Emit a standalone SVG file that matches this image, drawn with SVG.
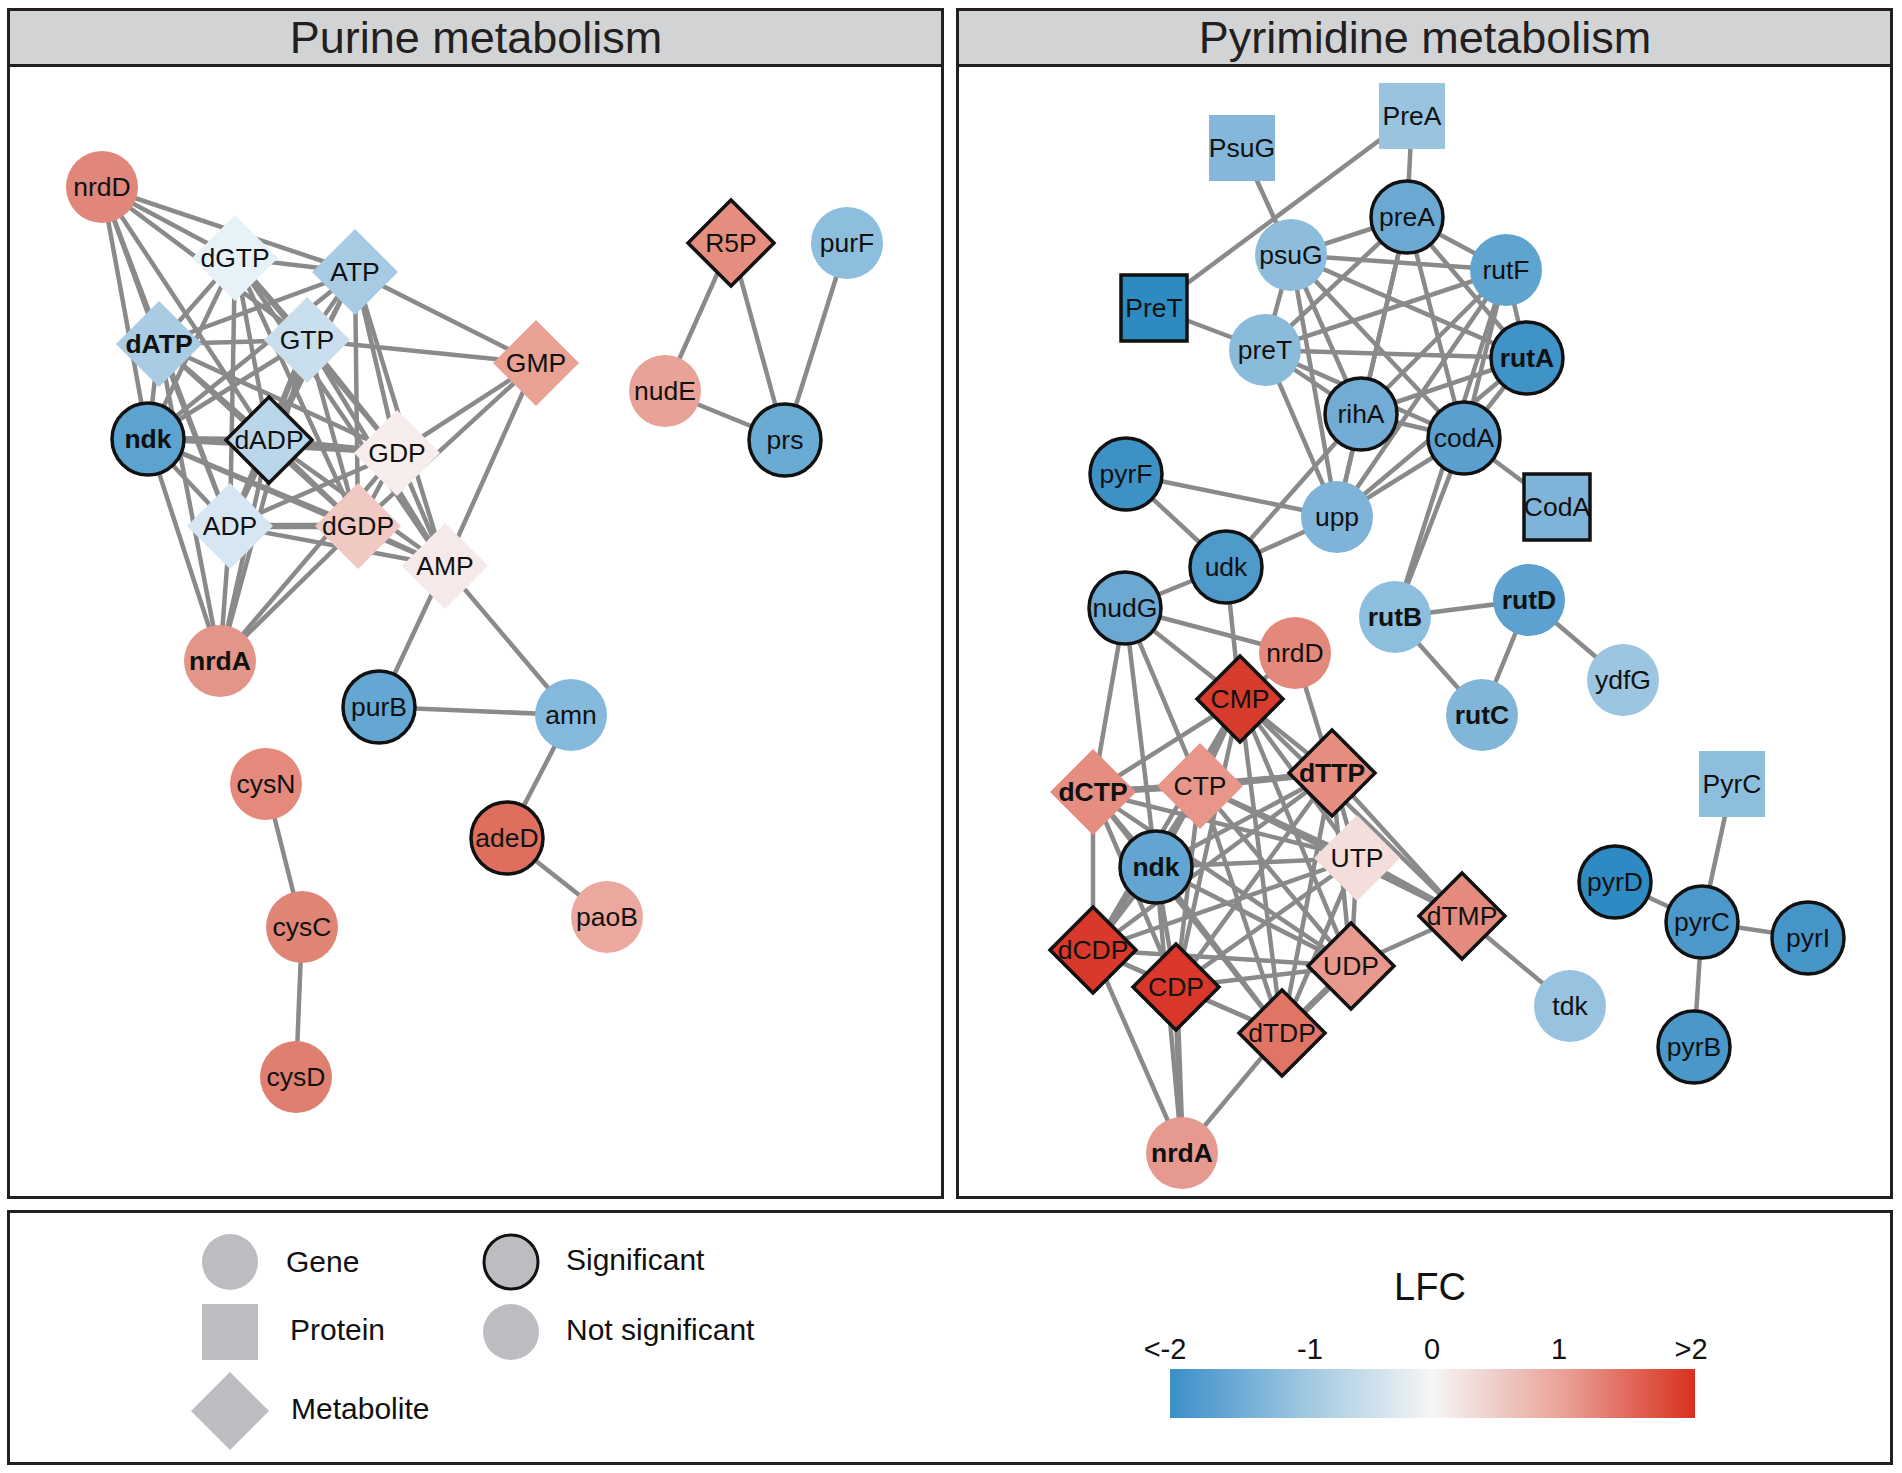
<svg xmlns="http://www.w3.org/2000/svg" xmlns:xlink="http://www.w3.org/1999/xlink" width="1902" height="1473" viewBox="0 0 1902 1473">
<style>
.frame{fill:none;stroke:#231f20;stroke-width:3}
.hdr{fill:#d1d3d4;stroke:#231f20;stroke-width:3}
.title{font-family:"Liberation Sans",Arial,sans-serif;font-size:45px;fill:#231f20;text-anchor:middle}
.e line{stroke:#8a8a8a;stroke-width:4.5;stroke-linecap:round}
.e line.w{stroke-width:6.5}
.t{font-family:"Liberation Sans",Arial,sans-serif;font-size:26.5px;fill:#111;text-anchor:middle}
.b{font-weight:bold}
.sig{stroke:#111;stroke-width:3.5}
.lg{font-family:"Liberation Sans",Arial,sans-serif;font-size:30px;fill:#111}
.lt{font-family:"Liberation Sans",Arial,sans-serif;font-size:29px;fill:#111;text-anchor:middle}
.ls{fill:#bcbdc0}
</style>
<defs>
<circle id="c" r="36"/>
<path id="d" d="M0,-43L43,0L0,43L-43,0Z"/>
<rect id="s" x="-33" y="-33" width="66" height="66"/>
<linearGradient id="lfc" x1="0" y1="0" x2="1" y2="0">
<stop offset="0" stop-color="#3b8fc9"/>
<stop offset="0.25" stop-color="#9cc6e0"/>
<stop offset="0.5" stop-color="#f6f6f6"/>
<stop offset="0.75" stop-color="#e9a198"/>
<stop offset="1" stop-color="#d9301f"/>
</linearGradient>
</defs>
<rect width="1902" height="1473" fill="#fff"/>

<g id="panel-purine">
<rect class="frame" x="8.5" y="9.5" width="934" height="1188"/>
<rect class="hdr" x="8.5" y="9.5" width="934" height="56"/>
<text class="title" x="476" y="53">Purine metabolism</text>
</g>
<g id="panel-pyrimidine">
<rect class="frame" x="957.5" y="9.5" width="934" height="1188"/>
<rect class="hdr" x="957.5" y="9.5" width="934" height="56"/>
<text class="title" x="1425" y="53">Pyrimidine metabolism</text>
</g>

<g id="connectors" class="e">
<line x1="102" y1="187" x2="235" y2="258"/>
<line x1="102" y1="187" x2="355" y2="272"/>
<line x1="102" y1="187" x2="307" y2="340"/>
<line x1="102" y1="187" x2="269" y2="440"/>
<line x1="102" y1="187" x2="159" y2="344"/>
<line x1="102" y1="187" x2="148" y2="439"/>
<line x1="102" y1="187" x2="230" y2="526"/>
<line x1="235" y1="258" x2="355" y2="272"/>
<line x1="235" y1="258" x2="159" y2="344"/>
<line x1="235" y1="258" x2="307" y2="340"/>
<line x1="235" y1="258" x2="148" y2="439"/>
<line x1="235" y1="258" x2="269" y2="440"/>
<line x1="235" y1="258" x2="397" y2="453"/>
<line x1="235" y1="258" x2="358" y2="526"/>
<line x1="235" y1="258" x2="230" y2="526"/>
<line x1="235" y1="258" x2="445" y2="566"/>
<line x1="355" y1="272" x2="159" y2="344"/>
<line x1="355" y1="272" x2="307" y2="340"/>
<line x1="355" y1="272" x2="536" y2="363"/>
<line x1="355" y1="272" x2="148" y2="439"/>
<line x1="355" y1="272" x2="269" y2="440"/>
<line x1="355" y1="272" x2="397" y2="453"/>
<line x1="355" y1="272" x2="358" y2="526"/>
<line x1="355" y1="272" x2="230" y2="526"/>
<line x1="355" y1="272" x2="445" y2="566"/>
<line x1="159" y1="344" x2="307" y2="340"/>
<line x1="159" y1="344" x2="148" y2="439"/>
<line x1="159" y1="344" x2="269" y2="440"/>
<line x1="159" y1="344" x2="397" y2="453"/>
<line x1="159" y1="344" x2="358" y2="526"/>
<line x1="159" y1="344" x2="230" y2="526"/>
<line x1="159" y1="344" x2="220" y2="661"/>
<line x1="307" y1="340" x2="536" y2="363"/>
<line x1="307" y1="340" x2="148" y2="439"/>
<line x1="307" y1="340" x2="269" y2="440"/>
<line x1="307" y1="340" x2="397" y2="453"/>
<line x1="307" y1="340" x2="358" y2="526"/>
<line x1="307" y1="340" x2="230" y2="526"/>
<line x1="307" y1="340" x2="445" y2="566"/>
<line x1="307" y1="340" x2="220" y2="661"/>
<line class="w" x1="148" y1="439" x2="269" y2="440"/>
<line x1="148" y1="439" x2="397" y2="453"/>
<line x1="148" y1="439" x2="230" y2="526"/>
<line x1="148" y1="439" x2="358" y2="526"/>
<line x1="148" y1="439" x2="220" y2="661"/>
<line x1="148" y1="439" x2="445" y2="566"/>
<line class="w" x1="269" y1="440" x2="397" y2="453"/>
<line x1="269" y1="440" x2="358" y2="526"/>
<line x1="269" y1="440" x2="230" y2="526"/>
<line x1="269" y1="440" x2="220" y2="661"/>
<line x1="269" y1="440" x2="445" y2="566"/>
<line x1="397" y1="453" x2="536" y2="363"/>
<line x1="397" y1="453" x2="358" y2="526"/>
<line x1="397" y1="453" x2="230" y2="526"/>
<line x1="397" y1="453" x2="445" y2="566"/>
<line x1="397" y1="453" x2="220" y2="661"/>
<line class="w" x1="230" y1="526" x2="358" y2="526"/>
<line x1="230" y1="526" x2="445" y2="566"/>
<line x1="230" y1="526" x2="220" y2="661"/>
<line x1="358" y1="526" x2="445" y2="566"/>
<line x1="358" y1="526" x2="220" y2="661"/>
<line x1="358" y1="526" x2="536" y2="363"/>
<line x1="445" y1="566" x2="536" y2="363"/>
<line x1="445" y1="566" x2="379" y2="707"/>
<line x1="445" y1="566" x2="571" y2="715"/>
<line x1="379" y1="707" x2="571" y2="715"/>
<line x1="571" y1="715" x2="507" y2="838"/>
<line x1="507" y1="838" x2="607" y2="917"/>
<line x1="266" y1="784" x2="302" y2="927"/>
<line x1="302" y1="927" x2="296" y2="1077"/>
<line x1="731" y1="243" x2="665" y2="391"/>
<line x1="731" y1="243" x2="785" y2="440"/>
<line x1="665" y1="391" x2="785" y2="440"/>
<line x1="847" y1="243" x2="785" y2="440"/>
<line x1="1242" y1="148" x2="1291" y2="255"/>
<line x1="1412" y1="116" x2="1407" y2="217"/>
<line x1="1412" y1="116" x2="1154" y2="308"/>
<line x1="1154" y1="308" x2="1265" y2="350"/>
<line x1="1557" y1="507" x2="1464" y2="438"/>
<line x1="1291" y1="255" x2="1407" y2="217"/>
<line x1="1291" y1="255" x2="1506" y2="270"/>
<line x1="1291" y1="255" x2="1527" y2="358"/>
<line x1="1291" y1="255" x2="1464" y2="438"/>
<line x1="1291" y1="255" x2="1361" y2="414"/>
<line x1="1291" y1="255" x2="1265" y2="350"/>
<line x1="1291" y1="255" x2="1337" y2="517"/>
<line x1="1407" y1="217" x2="1506" y2="270"/>
<line x1="1407" y1="217" x2="1527" y2="358"/>
<line x1="1407" y1="217" x2="1464" y2="438"/>
<line x1="1407" y1="217" x2="1361" y2="414"/>
<line x1="1407" y1="217" x2="1265" y2="350"/>
<line x1="1407" y1="217" x2="1337" y2="517"/>
<line x1="1506" y1="270" x2="1265" y2="350"/>
<line x1="1506" y1="270" x2="1464" y2="438"/>
<line x1="1506" y1="270" x2="1361" y2="414"/>
<line x1="1506" y1="270" x2="1337" y2="517"/>
<line x1="1506" y1="270" x2="1395" y2="617"/>
<line x1="1506" y1="270" x2="1527" y2="358"/>
<line x1="1265" y1="350" x2="1527" y2="358"/>
<line x1="1265" y1="350" x2="1361" y2="414"/>
<line x1="1265" y1="350" x2="1464" y2="438"/>
<line x1="1265" y1="350" x2="1337" y2="517"/>
<line x1="1527" y1="358" x2="1361" y2="414"/>
<line x1="1527" y1="358" x2="1464" y2="438"/>
<line x1="1527" y1="358" x2="1337" y2="517"/>
<line x1="1361" y1="414" x2="1464" y2="438"/>
<line x1="1361" y1="414" x2="1337" y2="517"/>
<line x1="1361" y1="414" x2="1226" y2="567"/>
<line x1="1464" y1="438" x2="1337" y2="517"/>
<line x1="1464" y1="438" x2="1395" y2="617"/>
<line x1="1337" y1="517" x2="1126" y2="474"/>
<line x1="1337" y1="517" x2="1226" y2="567"/>
<line x1="1126" y1="474" x2="1226" y2="567"/>
<line x1="1226" y1="567" x2="1125" y2="608"/>
<line x1="1226" y1="567" x2="1240" y2="699"/>
<line x1="1395" y1="617" x2="1529" y2="600"/>
<line x1="1395" y1="617" x2="1482" y2="715"/>
<line x1="1529" y1="600" x2="1482" y2="715"/>
<line x1="1529" y1="600" x2="1623" y2="680"/>
<line x1="1732" y1="784" x2="1702" y2="922"/>
<line x1="1615" y1="882" x2="1702" y2="922"/>
<line x1="1702" y1="922" x2="1808" y2="938"/>
<line x1="1702" y1="922" x2="1694" y2="1047"/>
<line x1="1125" y1="608" x2="1295" y2="653"/>
<line x1="1125" y1="608" x2="1240" y2="699"/>
<line x1="1125" y1="608" x2="1093" y2="792"/>
<line x1="1125" y1="608" x2="1200" y2="786"/>
<line x1="1125" y1="608" x2="1156" y2="867"/>
<line x1="1295" y1="653" x2="1332" y2="773"/>
<line x1="1295" y1="653" x2="1240" y2="699"/>
<line x1="1240" y1="699" x2="1093" y2="792"/>
<line x1="1240" y1="699" x2="1200" y2="786"/>
<line x1="1240" y1="699" x2="1332" y2="773"/>
<line x1="1240" y1="699" x2="1357" y2="858"/>
<line x1="1240" y1="699" x2="1462" y2="916"/>
<line x1="1240" y1="699" x2="1156" y2="867"/>
<line x1="1240" y1="699" x2="1093" y2="950"/>
<line x1="1240" y1="699" x2="1176" y2="987"/>
<line x1="1240" y1="699" x2="1351" y2="966"/>
<line x1="1240" y1="699" x2="1282" y2="1033"/>
<line class="w" x1="1093" y1="792" x2="1200" y2="786"/>
<line x1="1093" y1="792" x2="1156" y2="867"/>
<line x1="1093" y1="792" x2="1093" y2="950"/>
<line x1="1093" y1="792" x2="1176" y2="987"/>
<line x1="1093" y1="792" x2="1357" y2="858"/>
<line x1="1093" y1="792" x2="1351" y2="966"/>
<line x1="1093" y1="792" x2="1282" y2="1033"/>
<line x1="1093" y1="792" x2="1332" y2="773"/>
<line class="w" x1="1200" y1="786" x2="1332" y2="773"/>
<line x1="1200" y1="786" x2="1156" y2="867"/>
<line x1="1200" y1="786" x2="1357" y2="858"/>
<line x1="1200" y1="786" x2="1093" y2="950"/>
<line x1="1200" y1="786" x2="1176" y2="987"/>
<line x1="1200" y1="786" x2="1351" y2="966"/>
<line x1="1200" y1="786" x2="1282" y2="1033"/>
<line x1="1200" y1="786" x2="1462" y2="916"/>
<line x1="1332" y1="773" x2="1357" y2="858"/>
<line x1="1332" y1="773" x2="1462" y2="916"/>
<line x1="1332" y1="773" x2="1156" y2="867"/>
<line x1="1332" y1="773" x2="1093" y2="950"/>
<line x1="1332" y1="773" x2="1176" y2="987"/>
<line x1="1332" y1="773" x2="1351" y2="966"/>
<line x1="1332" y1="773" x2="1282" y2="1033"/>
<line x1="1156" y1="867" x2="1357" y2="858"/>
<line x1="1156" y1="867" x2="1093" y2="950"/>
<line x1="1156" y1="867" x2="1176" y2="987"/>
<line x1="1156" y1="867" x2="1351" y2="966"/>
<line x1="1156" y1="867" x2="1282" y2="1033"/>
<line x1="1156" y1="867" x2="1182" y2="1153"/>
<line class="w" x1="1357" y1="858" x2="1462" y2="916"/>
<line x1="1357" y1="858" x2="1093" y2="950"/>
<line x1="1357" y1="858" x2="1176" y2="987"/>
<line x1="1357" y1="858" x2="1351" y2="966"/>
<line x1="1357" y1="858" x2="1282" y2="1033"/>
<line x1="1093" y1="950" x2="1176" y2="987"/>
<line x1="1093" y1="950" x2="1351" y2="966"/>
<line x1="1093" y1="950" x2="1282" y2="1033"/>
<line x1="1093" y1="950" x2="1182" y2="1153"/>
<line x1="1176" y1="987" x2="1351" y2="966"/>
<line x1="1176" y1="987" x2="1282" y2="1033"/>
<line class="w" x1="1176" y1="987" x2="1182" y2="1153"/>
<line class="w" x1="1351" y1="966" x2="1282" y2="1033"/>
<line x1="1351" y1="966" x2="1462" y2="916"/>
<line x1="1282" y1="1033" x2="1182" y2="1153"/>
<line x1="1462" y1="916" x2="1570" y2="1006"/>
</g>

<g id="n-pur-nrdD"><use href="#c" x="102" y="187" fill="#e0867a"/><text class="t" x="102" y="196">nrdD</text></g>
<g id="n-pur-dGTP"><use href="#d" x="235" y="258" fill="#e7f1f8"/><text class="t" x="235" y="267">dGTP</text></g>
<g id="n-pur-ATP"><use href="#d" x="355" y="272" fill="#a7cbe3"/><text class="t" x="355" y="281">ATP</text></g>
<g id="n-pur-dATP"><use href="#d" x="159" y="344" fill="#a9cce4"/><text class="t b" x="159" y="353">dATP</text></g>
<g id="n-pur-GTP"><use href="#d" x="307" y="340" fill="#c9dfee"/><text class="t" x="307" y="349">GTP</text></g>
<g id="n-pur-GMP"><use href="#d" x="536" y="363" fill="#e8a193"/><text class="t" x="536" y="372">GMP</text></g>
<g id="n-pur-ndk"><use href="#c" x="148" y="439" fill="#5ca3d0" class="sig"/><text class="t b" x="148" y="448">ndk</text></g>
<g id="n-pur-dADP"><use href="#d" x="269" y="440" fill="#bad6ea" class="sig"/><text class="t" x="269" y="449">dADP</text></g>
<g id="n-pur-GDP"><use href="#d" x="397" y="453" fill="#f7eded"/><text class="t" x="397" y="462">GDP</text></g>
<g id="n-pur-ADP"><use href="#d" x="230" y="526" fill="#d6e6f2"/><text class="t" x="230" y="535">ADP</text></g>
<g id="n-pur-dGDP"><use href="#d" x="358" y="526" fill="#f0c9c3"/><text class="t" x="358" y="535">dGDP</text></g>
<g id="n-pur-AMP"><use href="#d" x="445" y="566" fill="#f5e9e9"/><text class="t" x="445" y="575">AMP</text></g>
<g id="n-pur-nrdA"><use href="#c" x="220" y="661" fill="#e4958a"/><text class="t b" x="220" y="670">nrdA</text></g>
<g id="n-pur-R5P"><use href="#d" x="731" y="243" fill="#e58e80" class="sig"/><text class="t" x="731" y="252">R5P</text></g>
<g id="n-pur-purF"><use href="#c" x="847" y="243" fill="#8dbedd"/><text class="t" x="847" y="252">purF</text></g>
<g id="n-pur-nudE"><use href="#c" x="665" y="391" fill="#e9a297"/><text class="t" x="665" y="400">nudE</text></g>
<g id="n-pur-prs"><use href="#c" x="785" y="440" fill="#6aabd3" class="sig"/><text class="t" x="785" y="449">prs</text></g>
<g id="n-pur-purB"><use href="#c" x="379" y="707" fill="#64a7d2" class="sig"/><text class="t" x="379" y="716">purB</text></g>
<g id="n-pur-amn"><use href="#c" x="571" y="715" fill="#85b9db"/><text class="t" x="571" y="724">amn</text></g>
<g id="n-pur-adeD"><use href="#c" x="507" y="838" fill="#de6f5f" class="sig"/><text class="t" x="507" y="847">adeD</text></g>
<g id="n-pur-paoB"><use href="#c" x="607" y="917" fill="#eaa89e"/><text class="t" x="607" y="926">paoB</text></g>
<g id="n-pur-cysN"><use href="#c" x="266" y="784" fill="#e4897c"/><text class="t" x="266" y="793">cysN</text></g>
<g id="n-pur-cysC"><use href="#c" x="302" y="927" fill="#e08576"/><text class="t" x="302" y="936">cysC</text></g>
<g id="n-pur-cysD"><use href="#c" x="296" y="1077" fill="#df7f70"/><text class="t" x="296" y="1086">cysD</text></g>

<g id="n-pyr-PsuG"><use href="#s" x="1242" y="148" fill="#84b7d9"/><text class="t" x="1242" y="157">PsuG</text></g>
<g id="n-pyr-PreA"><use href="#s" x="1412" y="116" fill="#99c4e0"/><text class="t" x="1412" y="125">PreA</text></g>
<g id="n-pyr-preA"><use href="#c" x="1407" y="217" fill="#6ba9d2" class="sig"/><text class="t" x="1407" y="226">preA</text></g>
<g id="n-pyr-psuG"><use href="#c" x="1291" y="255" fill="#8dbcdc"/><text class="t" x="1291" y="264">psuG</text></g>
<g id="n-pyr-rutF"><use href="#c" x="1506" y="270" fill="#5fa3cf"/><text class="t" x="1506" y="279">rutF</text></g>
<g id="n-pyr-PreT"><use href="#s" x="1154" y="308" fill="#2e8bc2" class="sig"/><text class="t" x="1154" y="317">PreT</text></g>
<g id="n-pyr-preT"><use href="#c" x="1265" y="350" fill="#8abbdb"/><text class="t" x="1265" y="359">preT</text></g>
<g id="n-pyr-rutA"><use href="#c" x="1527" y="358" fill="#3f93c6" class="sig"/><text class="t b" x="1527" y="367">rutA</text></g>
<g id="n-pyr-rihA"><use href="#c" x="1361" y="414" fill="#72acd4" class="sig"/><text class="t" x="1361" y="423">rihA</text></g>
<g id="n-pyr-codA"><use href="#c" x="1464" y="438" fill="#5a9fcd" class="sig"/><text class="t" x="1464" y="447">codA</text></g>
<g id="n-pyr-CodA"><use href="#s" x="1557" y="507" fill="#7fb4d8" class="sig"/><text class="t" x="1557" y="516">CodA</text></g>
<g id="n-pyr-pyrF"><use href="#c" x="1126" y="474" fill="#3d91c5" class="sig"/><text class="t" x="1126" y="483">pyrF</text></g>
<g id="n-pyr-upp"><use href="#c" x="1337" y="517" fill="#7fb4d8"/><text class="t" x="1337" y="526">upp</text></g>
<g id="n-pyr-udk"><use href="#c" x="1226" y="567" fill="#4e9acb" class="sig"/><text class="t" x="1226" y="576">udk</text></g>
<g id="n-pyr-nudG"><use href="#c" x="1125" y="608" fill="#6ba8d2" class="sig"/><text class="t" x="1125" y="617">nudG</text></g>
<g id="n-pyr-rutB"><use href="#c" x="1395" y="617" fill="#8dbedd"/><text class="t b" x="1395" y="626">rutB</text></g>
<g id="n-pyr-rutD"><use href="#c" x="1529" y="600" fill="#5ca1cf"/><text class="t b" x="1529" y="609">rutD</text></g>
<g id="n-pyr-ydfG"><use href="#c" x="1623" y="680" fill="#9bc5e0"/><text class="t" x="1623" y="689">ydfG</text></g>
<g id="n-pyr-rutC"><use href="#c" x="1482" y="715" fill="#82b6d9"/><text class="t b" x="1482" y="724">rutC</text></g>
<g id="n-pyr-nrdD"><use href="#c" x="1295" y="653" fill="#e2897b"/><text class="t" x="1295" y="662">nrdD</text></g>
<g id="n-pyr-CMP"><use href="#d" x="1240" y="699" fill="#d73b2c" class="sig"/><text class="t" x="1240" y="708">CMP</text></g>
<g id="n-pyr-dTTP"><use href="#d" x="1332" y="773" fill="#e58e80" class="sig"/><text class="t b" x="1332" y="782">dTTP</text></g>
<g id="n-pyr-dCTP"><use href="#d" x="1093" y="792" fill="#e58d80"/><text class="t b" x="1093" y="801">dCTP</text></g>
<g id="n-pyr-CTP"><use href="#d" x="1200" y="786" fill="#e8968a"/><text class="t" x="1200" y="795">CTP</text></g>
<g id="n-pyr-ndk"><use href="#c" x="1156" y="867" fill="#62a5d0" class="sig"/><text class="t b" x="1156" y="876">ndk</text></g>
<g id="n-pyr-UTP"><use href="#d" x="1357" y="858" fill="#f3dedb"/><text class="t" x="1357" y="867">UTP</text></g>
<g id="n-pyr-dTMP"><use href="#d" x="1462" y="916" fill="#e48b7d" class="sig"/><text class="t" x="1462" y="925">dTMP</text></g>
<g id="n-pyr-dCDP"><use href="#d" x="1093" y="950" fill="#d9392a" class="sig"/><text class="t" x="1093" y="959">dCDP</text></g>
<g id="n-pyr-CDP"><use href="#d" x="1176" y="987" fill="#d9372a" class="sig"/><text class="t" x="1176" y="996">CDP</text></g>
<g id="n-pyr-UDP"><use href="#d" x="1351" y="966" fill="#e8998d" class="sig"/><text class="t" x="1351" y="975">UDP</text></g>
<g id="n-pyr-dTDP"><use href="#d" x="1282" y="1033" fill="#e07565" class="sig"/><text class="t" x="1282" y="1042">dTDP</text></g>
<g id="n-pyr-nrdA"><use href="#c" x="1182" y="1153" fill="#e69a8f"/><text class="t b" x="1182" y="1162">nrdA</text></g>
<g id="n-pyr-tdk"><use href="#c" x="1570" y="1006" fill="#98c3e0"/><text class="t" x="1570" y="1015">tdk</text></g>
<g id="n-pyr-PyrC"><use href="#s" x="1732" y="784" fill="#8ebedd"/><text class="t" x="1732" y="793">PyrC</text></g>
<g id="n-pyr-pyrD"><use href="#c" x="1615" y="882" fill="#2d8ac2" class="sig"/><text class="t" x="1615" y="891">pyrD</text></g>
<g id="n-pyr-pyrC"><use href="#c" x="1702" y="922" fill="#4d98ca" class="sig"/><text class="t" x="1702" y="931">pyrC</text></g>
<g id="n-pyr-pyrI"><use href="#c" x="1808" y="938" fill="#4595c8" class="sig"/><text class="t" x="1808" y="947">pyrI</text></g>
<g id="n-pyr-pyrB"><use href="#c" x="1694" y="1047" fill="#4a97c9" class="sig"/><text class="t" x="1694" y="1056">pyrB</text></g>

<g id="legend">
<rect class="frame" x="8.5" y="1211.5" width="1883" height="252"/>
<circle class="ls" cx="230" cy="1262" r="28"/>
<text class="lg" x="286" y="1272">Gene</text>
<rect class="ls" x="202" y="1304" width="56" height="56"/>
<text class="lg" x="290" y="1340">Protein</text>
<path class="ls" d="M230,1372L269,1411L230,1450L191,1411Z"/>
<text class="lg" x="291" y="1419">Metabolite</text>
<circle class="ls" cx="511" cy="1262" r="27" stroke="#111" stroke-width="3"/>
<text class="lg" x="566" y="1270">Significant</text>
<circle class="ls" cx="511" cy="1332" r="28"/>
<text class="lg" x="566" y="1340">Not significant</text>
<text class="lg" x="1430" y="1300" style="font-size:38px;text-anchor:middle">LFC</text>
<text class="lt" x="1165" y="1359">&lt;-2</text>
<text class="lt" x="1310" y="1359">-1</text>
<text class="lt" x="1432" y="1359">0</text>
<text class="lt" x="1559" y="1359">1</text>
<text class="lt" x="1691" y="1359">&gt;2</text>
<rect x="1170" y="1369" width="525" height="49" fill="url(#lfc)"/>
</g>
</svg>
